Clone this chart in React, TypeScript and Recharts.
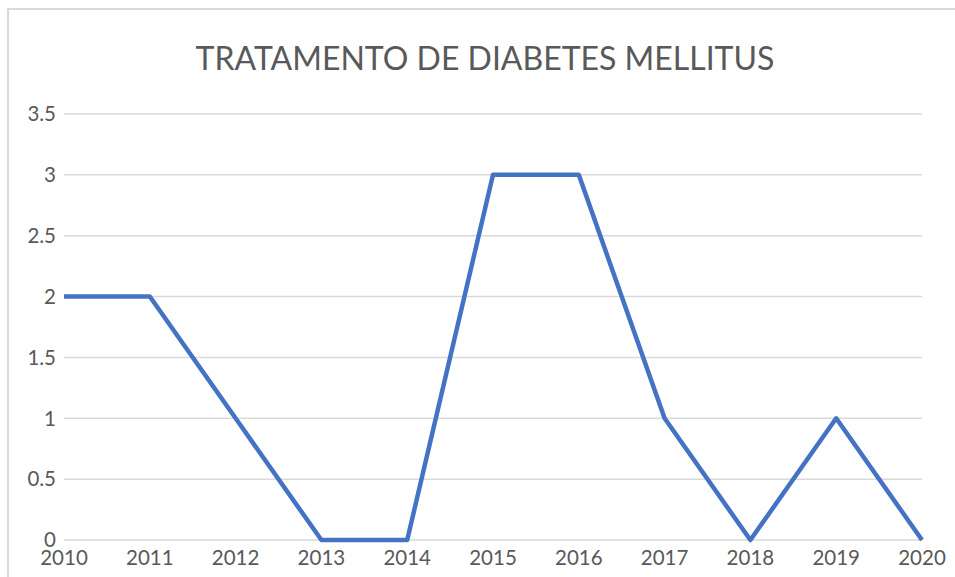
import { LineChart, Line, XAxis, YAxis, CartesianGrid } from 'recharts';

const YEARS = ['2010', '2011', '2012', '2013', '2014', '2015', '2016', '2017', '2018', '2019', '2020'];
const TRATAMENTO = [2, 2, 1, 0, 0, 3, 3, 1, 0, 1, 0];
const Y_TICKS = [0, 0.5, 1, 1.5, 2, 2.5, 3, 3.5];

const data = YEARS.map((ano, i) => ({ ano, valor: TRATAMENTO[i] }));

const FONT = 'Lato, "Open Sans", sans-serif';
const tick = { fontSize: 20.5, fill: '#595959', fontFamily: FONT };

export default function App() {
  return (
    <div style={{ position: 'absolute', left: 0, top: 0, width: 955, height: 577, overflow: 'hidden', background: '#fff' }}>
      <style>{'body{margin:0}'}</style>
      <div
        style={{
          position: 'absolute',
          left: 7,
          top: 8,
          width: 970,
          height: 590,
          border: '2px solid #d9d9d9',
          boxSizing: 'border-box',
        }}
      />
      <div
        style={{
          position: 'absolute',
          left: 0,
          top: 37,
          width: 970,
          textAlign: 'center',
          fontFamily: FONT,
          fontSize: 32,
          color: '#595959',
          lineHeight: '42px',
        }}
      >
        TRATAMENTO DE DIABETES MELLITUS
      </div>
      <div style={{ position: 'absolute', left: 0, top: 0 }}>
        <LineChart width={955} height={577} data={data} margin={{ top: 114, right: 33, bottom: 7, left: 0 }}>
          <CartesianGrid horizontal vertical={false} stroke="#d9d9d9" strokeWidth={1.5} />
          <XAxis
            dataKey="ano"
            tick={tick}
            tickLine={false}
            axisLine={false}
            height={30}
            interval={0}
            tickMargin={4}
          />
          <YAxis
            domain={[0, 3.5]}
            ticks={Y_TICKS}
            tick={tick}
            tickLine={false}
            axisLine={false}
            width={64}
            tickMargin={2}
          />
          <Line
            type="linear"
            dataKey="valor"
            stroke="#4472c4"
            strokeWidth={4.5}
            dot={false}
            strokeLinejoin="round"
            isAnimationActive={false}
          />
        </LineChart>
      </div>
    </div>
  );
}
